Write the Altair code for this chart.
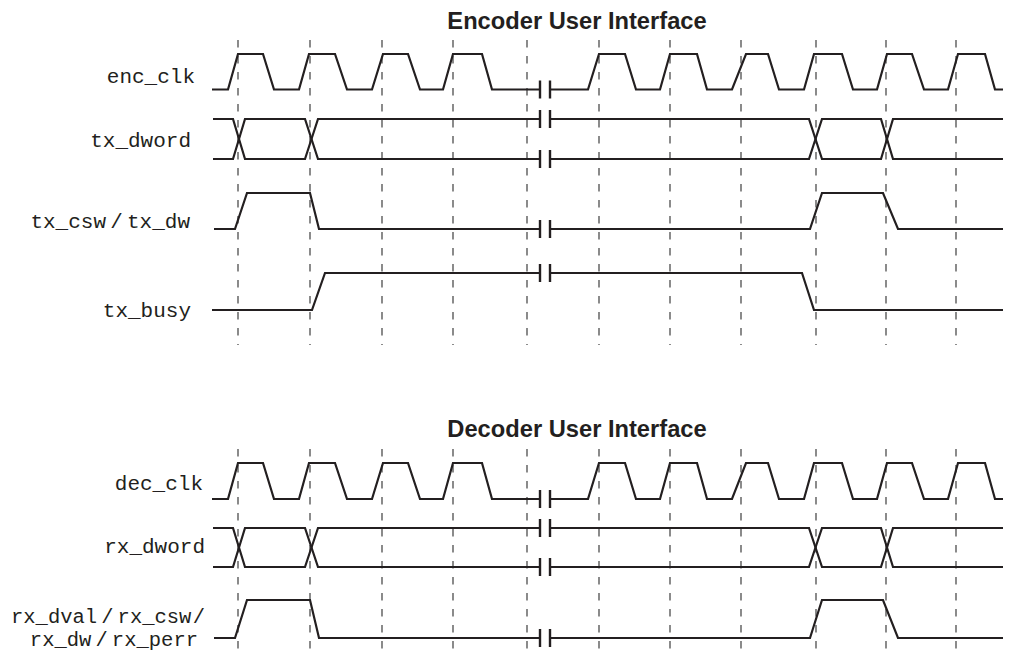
import altair as alt
import pandas as pd

# ---- time axis (arbitrary time units) ----
CYCLE_MARKS = [238, 310, 382, 453, 527, 599, 670, 741, 816, 886, 956]
BREAK_AT = [540, 550]

# clock waveform (time, level)
clk_t = [212, 228, 238, 263, 274, 299, 309, 335, 347, 372, 383, 408, 420, 443, 453, 482, 492, 540,
         550, 588, 599, 625, 636, 660, 670, 697, 707, 732, 746, 768, 779, 804, 814, 842, 853, 877,
         887, 912, 924, 948, 958, 985, 995, 1011]
clk_v = [0, 0, 1, 1, 0, 0, 1, 1, 0, 0, 1, 1, 0, 0, 1, 1, 0, 0,
         0, 0, 1, 1, 0, 0, 1, 1, 0, 0, 1, 1, 0, 0, 1, 1, 0, 0,
         1, 1, 0, 0, 1, 1, 0, 0]

# data word (bus) waveform: one trace, the other is its complement
dword_t = [213, 233, 245, 305, 318, 541, 551, 809, 822, 881, 893, 1011]
dword_v = [1, 1, 0, 0, 1, 1, 1, 1, 0, 0, 1, 1]

# strobe (csw / dw / dval) waveform
strobe_t = [214, 235, 247, 310, 319, 540, 551, 810, 822, 883, 898, 1011]
strobe_v = [0, 0, 1, 1, 0, 0, 0, 0, 1, 1, 0, 0]

# busy waveform
busy_t = [212, 312, 325, 540, 551, 802, 814, 1011]
busy_v = [0, 0, 1, 1, 1, 1, 0, 0]

# ---- signal rows (vertical positions of low / high levels) ----
signals = ["enc_clk", "tx_dword", "tx_csw", "tx_busy", "dec_clk", "rx_dword", "rx_dval"]
sig_kind = ["clk", "bus", "strobe", "busy", "clk", "bus", "strobe"]
sig_low = [89.5, 159, 229, 310, 499, 567, 638]
sig_high = [54, 119, 193, 273, 463, 528, 600]

# ---- labels ----
label_text = ["enc_clk", "tx_dword", "tx_csw\u2009/\u2009tx_dw", "tx_busy", "dec_clk", "rx_dword",
              "rx_dval\u2009/\u2009rx_csw\u200a/", "rx_dw\u2009/\u2009rx_perr"]
label_x = [195, 191, 190, 191, 203, 205, 205, 198]
label_y = [83, 147, 228, 317, 490, 553, 623, 646]
label_size = [21, 21, 21, 21, 21, 21, 20.5, 20.5]

section_titles = ["Encoder User Interface", "Decoder User Interface"]
title_x = [577, 577]
title_y = [29, 437]
section_top = [40, 449]
section_bottom = [345, 660]

# ---- build tables ----
shapes = {
    "clk": [(clk_t, clk_v)],
    "bus": [(dword_t, dword_v), (dword_t, [1 - v for v in dword_v])],
    "strobe": [(strobe_t, strobe_v)],
    "busy": [(busy_t, busy_v)],
}

wave_rows = []
break_rows = []
for s, kind, lo, hi in zip(signals, sig_kind, sig_low, sig_high):
    for k, (ts, vs) in enumerate(shapes[kind]):
        for i, (t, v) in enumerate(zip(ts, vs)):
            seg = "a" if t <= BREAK_AT[0] + 1 else "b"
            wave_rows.append({"trace": f"{s}-{k}-{seg}", "order": i, "t": t,
                              "y": lo + v * (hi - lo)})
        # level at the break
        v_break = [v for t, v in zip(ts, vs) if t <= BREAK_AT[0] + 1][-1]
        yc = lo + v_break * (hi - lo)
        for bx in BREAK_AT:
            break_rows.append({"t": bx, "y1": yc - 9, "y2": yc + 9})

waves = pd.DataFrame(wave_rows)
breaks = pd.DataFrame(break_rows)

grid = pd.DataFrame([{"t": c, "y1": top, "y2": bot}
                     for top, bot in zip(section_top, section_bottom) for c in CYCLE_MARKS])
labels = pd.DataFrame({"text": label_text, "t": label_x, "y": label_y, "size": label_size})
titles = pd.DataFrame({"text": section_titles, "t": title_x, "y": title_y})

W, H = 995, 646
xs = alt.Scale(domain=[8, 8 + W], nice=False, zero=False)
ys = alt.Scale(domain=[8, 8 + H], nice=False, zero=False, reverse=True)
INK = "#231f20"

grid_layer = alt.Chart(grid).mark_rule(
    color="#4d4d4d", strokeWidth=1.3, strokeDash=[7.5, 8.5]
).encode(
    x=alt.X("t:Q", scale=xs, axis=None),
    y=alt.Y("y1:Q", scale=ys, axis=None),
    y2="y2:Q",
)

wave_layer = alt.Chart(waves).mark_line(
    color=INK, strokeWidth=2.2, strokeJoin="miter", clip=False
).encode(
    x=alt.X("t:Q", scale=xs, axis=None),
    y=alt.Y("y:Q", scale=ys, axis=None),
    detail="trace:N",
    order="order:Q",
)

break_layer = alt.Chart(breaks).mark_rule(color=INK, strokeWidth=2.4).encode(
    x=alt.X("t:Q", scale=xs, axis=None),
    y=alt.Y("y1:Q", scale=ys, axis=None),
    y2="y2:Q",
)

label_layer = alt.Chart(labels).mark_text(
    align="right", baseline="alphabetic", font="Liberation Mono", color=INK
).encode(
    x=alt.X("t:Q", scale=xs, axis=None),
    y=alt.Y("y:Q", scale=ys, axis=None),
    text="text:N",
    size=alt.Size("size:Q", scale=None, legend=None),
)

title_layer = alt.Chart(titles).mark_text(
    align="center", baseline="alphabetic", font="Liberation Sans", fontSize=23.7,
    fontWeight="bold", color=INK
).encode(
    x=alt.X("t:Q", scale=xs, axis=None),
    y=alt.Y("y:Q", scale=ys, axis=None),
    text="text:N",
)

chart = alt.layer(grid_layer, wave_layer, break_layer, label_layer, title_layer).properties(
    width=W, height=H, padding=0, autosize="none", background="white"
).configure_view(stroke=None)

chart.save("out.html", embed_options={"renderer": "svg", "actions": False})
